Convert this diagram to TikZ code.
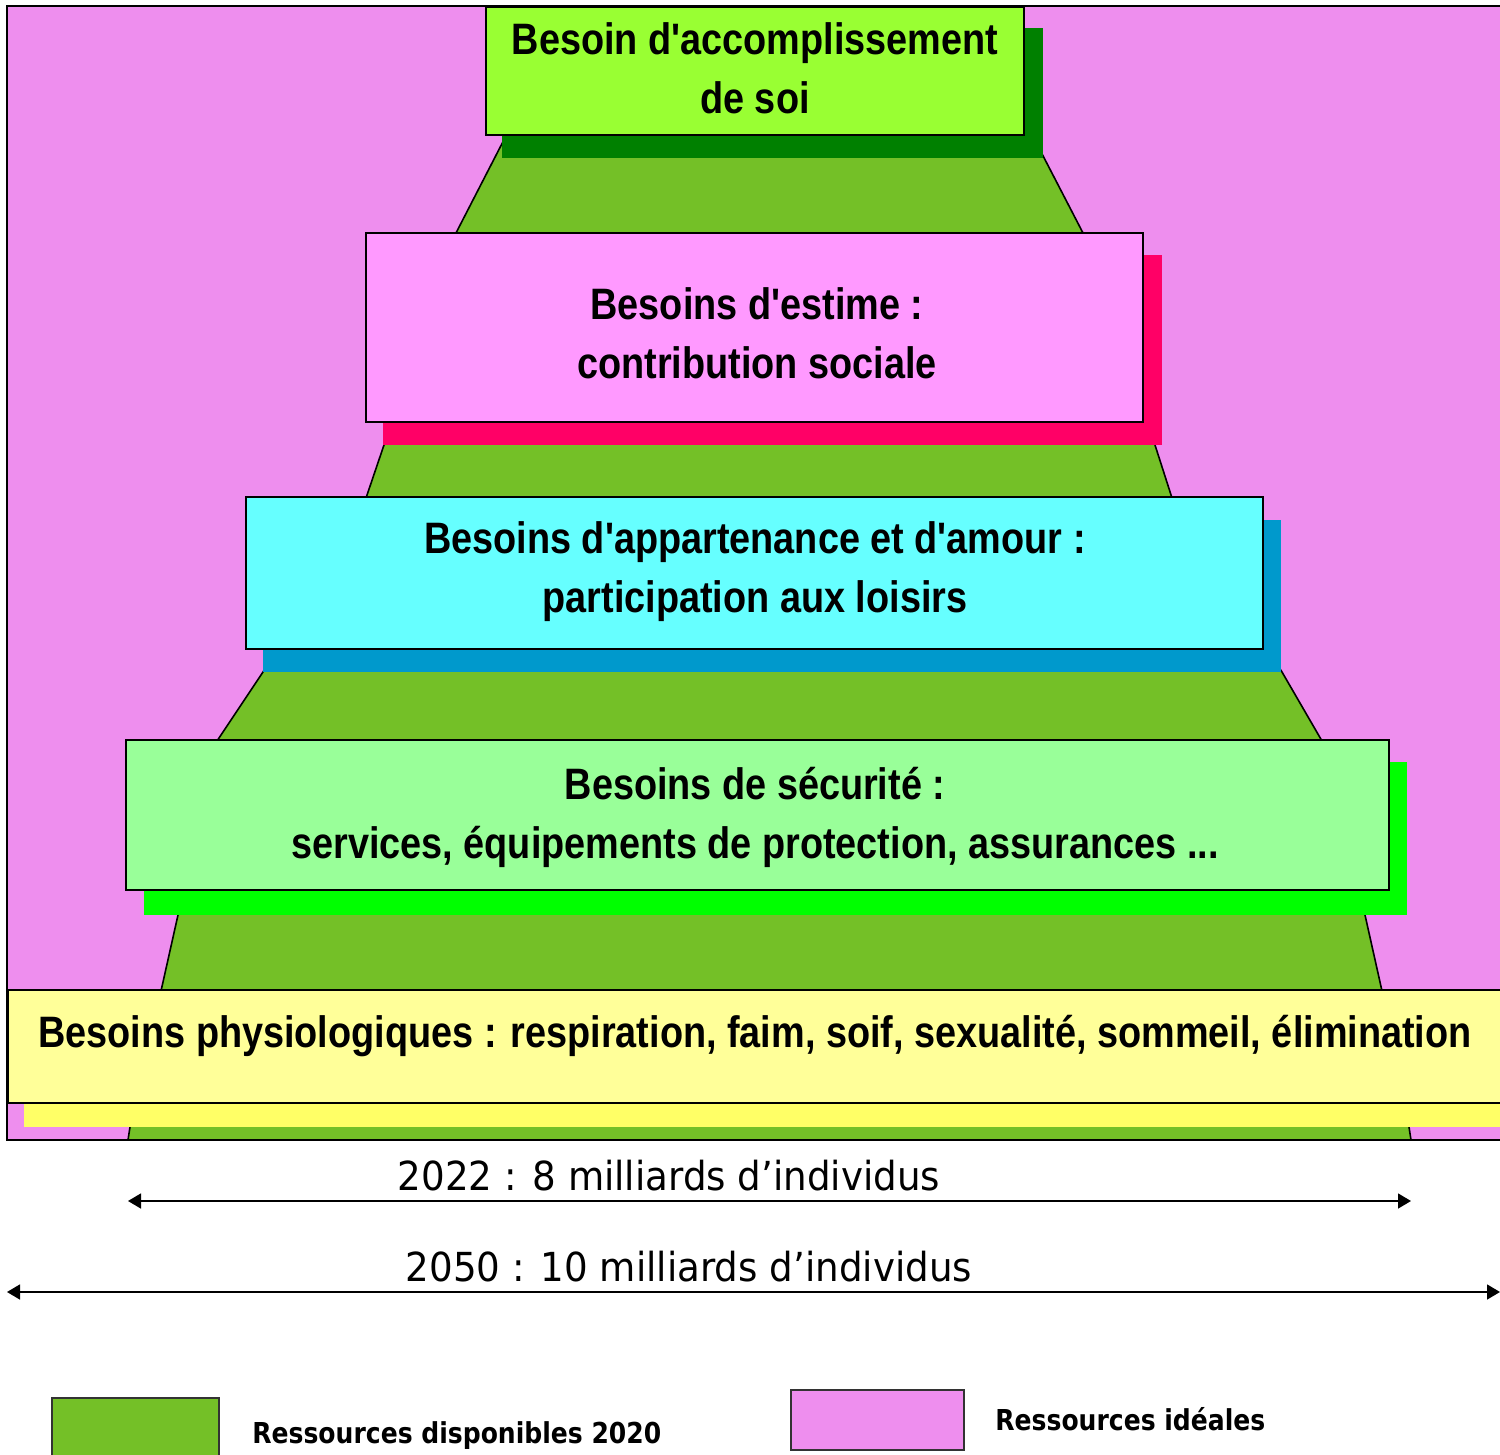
\documentclass[tikz,border=0pt]{standalone}
\usepackage{fontspec}
\setmainfont{Liberation Sans}
\newfontfamily\boxfont[FakeStretch=0.86,Ligatures=TeXOff]{Liberation Sans}
\newfontfamily\lowfont[FakeStretch=0.93]{DejaVu Sans}
\newfontfamily\legfont[FakeStretch=0.87]{DejaVu Sans}
\usetikzlibrary{arrows.meta}
\definecolor{bgpink}{RGB}{238,142,238}
\definecolor{resgreen}{RGB}{116,192,39}
\definecolor{fA}{RGB}{153,255,51}\definecolor{sA}{RGB}{0,128,0}
\definecolor{fB}{RGB}{255,153,255}\definecolor{sB}{RGB}{255,0,102}
\definecolor{fC}{RGB}{102,255,255}\definecolor{sC}{RGB}{0,153,204}
\definecolor{fD}{RGB}{153,255,153}\definecolor{sD}{RGB}{0,255,0}
\definecolor{fE}{RGB}{255,255,153}\definecolor{sE}{RGB}{255,255,102}
\tikzset{
  needbox/.style={draw=black, line width=1.2pt, rectangle, inner sep=0pt},
  needtext/.style={inner sep=0pt, align=center,
    font=\boxfont\bfseries\fontsize{22}{29.5}\selectfont},
  popline/.style={line width=0.75pt, {Triangle[length=6.5pt,width=7.5pt]}-{Triangle[length=6.5pt,width=7.5pt]}},
  poptext/.style={font=\lowfont\fontsize{20}{24}\selectfont, inner sep=0pt},
  legbox/.style={draw=black!80, line width=0.6pt},
  legtext/.style={font=\legfont\bfseries\fontsize{14.4}{17}\selectfont, inner sep=0pt, anchor=base west}
}
\begin{document}
\begin{tikzpicture}[x=0.5pt,y=-0.5pt]
\useasboundingbox (0,0) rectangle (1500,1455);
% background: ideal resources
\draw[fill=bgpink, line width=0.8pt] (7,6) rectangle (1520,1140);
% available resources (stepped pyramid)
\draw[fill=resgreen, line width=0.8pt]
  (509,130) -- (456,233) -- (384,445) -- (366,498) -- (263,672) -- (217,741)
  -- (178,915) -- (161,991) -- (134,1103) -- (130,1127) -- (128,1140)
  -- (1411,1140) -- (1409,1127) -- (1382,991) -- (1365,915) -- (1322,741)
  -- (1282,672) -- (1172,498) -- (1155,445) -- (1083,233) -- (1040,150) -- cycle;
% shadows
\fill[sA] (502,28) rectangle (1043,158);
\fill[sB] (383,255) rectangle (1162,445);
\fill[sC] (263,520) rectangle (1281,672);
\fill[sD] (144,762) rectangle (1407,915);
\fill[sE] (24,1103) rectangle (1520,1127);
% boxes
\node[needbox, fill=fA, minimum width=269pt, minimum height=64pt] (acc) at (755,71) {};
\node[needtext] (acct) at (755,68) {Besoin d'accomplissement\\de soi};
\node[needbox, fill=fB, minimum width=388.5pt, minimum height=94.5pt] (est) at (754.5,327.5) {};
\node[needtext] (estt) at (757,333) {Besoins d'estime :\\contribution sociale};
\node[needbox, fill=fC, minimum width=508.5pt, minimum height=76pt] (app) at (754.5,573) {};
\node[needtext] (appt) at (755,572) {Besoins d'appartenance et d'amour :\\participation aux loisirs};
\node[needbox, fill=fD, minimum width=631.5pt, minimum height=75pt] (sec) at (757.5,815) {};
\node[needtext] (sect) at (755,817) {Besoins de sécurité :\\services, équipements de protection, assurances ...};
\node[needbox, fill=fE, minimum width=756.5pt, minimum height=56.5pt, anchor=west] (phy) at (7,1046.5) {};
\node[needtext] (phyt) at (755,1036)
  {Besoins physiologiques : respiration, faim, soif, sexualité, sommeil, élimination};
% population arrows
\coordinate (p1l) at (128,1201);
\coordinate (p1r) at (1411,1201);
\coordinate (p2l) at (7,1292);
\coordinate (p2r) at (1500,1292);
\draw[popline] (p1l) -- (p1r);
\draw[popline] (p2l) -- (p2r);
\node[poptext] (t2022) at (669,1176) {2022 : 8 milliards d’individus};
\node[poptext] (t2050) at (689,1267) {2050 : 10 milliards d’individus};
% legend
\draw[legbox, fill=resgreen] (52,1398) rectangle (219,1470);
\node[legtext] (lg1) at (252,1443) {Ressources disponibles 2020};
\draw[legbox, fill=bgpink] (791,1390) rectangle (964,1450);
\node[legtext] (lg2) at (995,1430) {Ressources idéales};
\end{tikzpicture}
\end{document}
